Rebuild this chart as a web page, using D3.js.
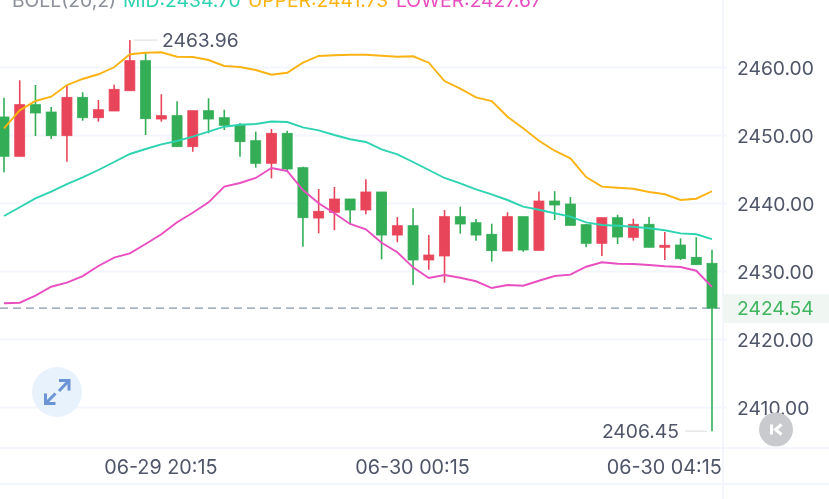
<!DOCTYPE html>
<html>
<head>
<meta charset="utf-8">
<script src="https://cdn.jsdelivr.net/npm/d3@7"></script>
<style>
html, body { margin: 0; padding: 0; background: #fff; overflow: hidden; }
svg { display: block; filter: blur(0.35px); }
text { font-family: Inter, Roboto, sans-serif; }
</style>
</head>
<body>
<script>
var w = 829;
var h = 499;

// 15 minute candles, 06-29 17:45 to 06-30 05:00
var times = ["06-29 17:45","06-29 18:00","06-29 18:15","06-29 18:30","06-29 18:45","06-29 19:00","06-29 19:15","06-29 19:30","06-29 19:45","06-29 20:00",
             "06-29 20:15","06-29 20:30","06-29 20:45","06-29 21:00","06-29 21:15","06-29 21:30","06-29 21:45","06-29 22:00","06-29 22:15","06-29 22:30",
             "06-29 22:45","06-29 23:00","06-29 23:15","06-29 23:30","06-29 23:45","06-30 00:00","06-30 00:15","06-30 00:30","06-30 00:45","06-30 01:00",
             "06-30 01:15","06-30 01:30","06-30 01:45","06-30 02:00","06-30 02:15","06-30 02:30","06-30 02:45","06-30 03:00","06-30 03:15","06-30 03:30",
             "06-30 03:45","06-30 04:00","06-30 04:15","06-30 04:30","06-30 04:45","06-30 05:00"];
var timeTicks = ["06-29 20:15","06-30 00:15","06-30 04:15"];
var priceTicks = [2410,2420,2430,2440,2450,2460];

var opens = [2452.65,2446.87,2454.46,2453.38,2449.90,2455.54,2452.54,2453.53,2456.51,2460.93,
             2452.35,2452.84,2448.28,2453.57,2452.54,2451.43,2449.16,2445.84,2450.25,2445.19,
             2437.79,2438.63,2440.59,2438.97,2441.62,2435.29,2436.66,2431.62,2432.21,2437.99,
             2437.10,2435.40,2432.94,2437.99,2433.04,2440.29,2439.85,2436.81,2434.07,2437.84,
             2434.96,2436.87,2433.49,2433.82,2432.01,2431.13];
var closes = [2446.87,2454.46,2453.24,2449.90,2455.54,2452.54,2453.72,2456.72,2460.93,2452.40,
              2452.84,2448.28,2453.57,2452.35,2451.43,2449.01,2445.84,2450.25,2445.00,2437.84,
              2438.78,2440.59,2438.97,2441.62,2435.29,2436.66,2431.62,2432.35,2437.99,2436.91,
              2435.29,2432.99,2437.99,2433.09,2440.29,2439.71,2436.72,2434.07,2437.84,2435.00,
              2436.87,2433.49,2433.78,2431.81,2430.93,2424.54];
var highs = [2455.49,2458.04,2457.35,2454.12,2457.35,2456.28,2455.15,2457.40,2463.96,2462.10,
             2455.99,2454.96,2453.57,2455.40,2453.72,2451.76,2450.49,2450.88,2450.63,2445.34,
             2442.06,2442.35,2440.59,2443.49,2441.62,2437.94,2439.22,2435.29,2438.97,2439.46,
             2437.65,2436.96,2438.63,2437.99,2441.69,2441.74,2440.88,2436.91,2437.84,2438.28,
             2437.69,2437.94,2435.74,2434.81,2434.96,2433.13];
var lows = [2444.51,2446.87,2449.85,2449.41,2446.07,2452.10,2451.96,2453.53,2456.51,2450.00,
            2451.96,2448.28,2447.54,2450.25,2450.74,2446.81,2445.19,2443.63,2444.60,2433.57,
            2435.54,2435.99,2437.01,2438.34,2431.72,2434.22,2427.94,2430.19,2428.28,2435.49,
            2434.46,2431.37,2432.94,2432.84,2433.04,2437.50,2436.72,2433.49,2432.21,2433.97,
            2434.46,2433.49,2431.62,2431.62,2430.93,2406.45];

var upper = [2450.99,2453.63,2455.00,2455.63,2457.35,2458.24,2458.93,2459.96,2461.87,2462.10,
             2462.16,2461.51,2461.47,2461.03,2460.15,2460.00,2459.56,2458.87,2459.16,2460.63,
             2461.62,2461.72,2461.81,2461.81,2461.66,2461.51,2461.57,2460.63,2457.94,2456.81,
             2455.54,2455.00,2452.69,2450.99,2449.16,2447.69,2446.57,2443.82,2442.40,2442.25,
             2442.10,2441.62,2441.28,2440.44,2440.63,2441.73];
var mid = [2438.09,2439.37,2440.69,2441.66,2442.79,2443.78,2444.85,2446.03,2447.21,2447.94,
           2448.63,2449.12,2449.75,2450.49,2451.22,2451.51,2451.62,2451.99,2451.91,2451.13,
           2450.69,2450.00,2449.37,2448.97,2447.90,2447.16,2446.03,2444.85,2443.68,2442.90,
           2442.01,2441.28,2440.44,2439.46,2439.01,2438.49,2437.99,2437.16,2436.76,2436.66,
           2436.51,2436.28,2435.99,2435.54,2435.40,2434.70];
var lower = [2425.25,2425.34,2426.37,2427.69,2428.28,2429.26,2430.74,2431.96,2432.60,2433.97,
             2435.40,2437.16,2438.57,2440.10,2442.40,2442.94,2443.68,2445.15,2444.71,2441.91,
             2439.96,2438.49,2436.91,2436.13,2434.16,2432.75,2430.54,2428.97,2429.41,2429.01,
             2428.49,2427.50,2427.94,2427.84,2428.57,2429.26,2429.46,2430.63,2431.28,2431.07,
             2431.03,2430.88,2430.69,2430.59,2430.04,2427.67];

var lastPrice = 2424.54;
var maxPrice = 2463.96;
var minPrice = 2406.45;

var red = "#e9455a";
var green = "#33ae57";
var gridColor = "#f3f6fc";
var labelColor = "#50566a";
var fontSize = 19.3;

var svg = d3.select("body").append("svg")
            .attr("width", w)
            .attr("height", h);

var xScale = d3.scalePoint().domain(times).range([4, 712]);
var yScale = d3.scaleLinear().domain([2410, 2460]).range([407, 67]);

// panel borders
svg.append("line").attr("x1",723).attr("x2",723).attr("y1",0).attr("y2",499)
   .attr("stroke",gridColor).attr("stroke-width",2);
svg.append("rect").attr("x",0).attr("y",447).attr("width",w).attr("height",2).attr("fill",gridColor);
svg.append("rect").attr("x",0).attr("y",483).attr("width",w).attr("height",2).attr("fill",gridColor);

// price tag background
svg.append("rect").attr("x",723).attr("y",294).attr("width",106).attr("height",29).attr("fill","#f0f7f2");

// grid
var grid = svg.append("g")
   .call(d3.axisLeft(yScale).tickValues(priceTicks).tickSize(-727).tickFormat(""));
grid.select(".domain").remove();
grid.selectAll("line").attr("stroke",gridColor).attr("stroke-width",2);

// axes
var yAxis = svg.append("g")
   .attr("transform","translate(737,0)")
   .call(d3.axisRight(yScale).tickValues(priceTicks).tickSize(0).tickPadding(0).tickFormat(d3.format(".2f")));
yAxis.select(".domain").remove();
yAxis.selectAll("text")
     .attr("font-family","Inter, Roboto, sans-serif")
     .attr("font-size",fontSize)
     .attr("dy","0.4em")
     .attr("fill",labelColor);

var xAxis = svg.append("g")
   .attr("transform","translate(-1,460)")
   .call(d3.axisBottom(xScale).tickValues(timeTicks).tickSize(0).tickPadding(0));
xAxis.select(".domain").remove();
xAxis.selectAll("text")
     .attr("font-family","Inter, Roboto, sans-serif")
     .attr("font-size",19.8)
     .attr("fill",labelColor);

// last price line
svg.append("line")
   .attr("x1",0).attr("x2",720)
   .attr("y1",yScale(lastPrice)).attr("y2",yScale(lastPrice))
   .attr("stroke","#8496ab").attr("stroke-width",1.4).attr("stroke-dasharray","8,5");
svg.append("text")
   .attr("x",737).attr("y",yScale(lastPrice)).attr("dy","0.38em")
   .attr("font-size",fontSize).attr("fill","#3fb560")
   .text(d3.format(".2f")(lastPrice));

// candles
var candles = svg.append("g").selectAll("g")
   .data(times)
   .enter()
   .append("g")
   .attr("fill",function(d,i){ return closes[i] >= opens[i] ? red : green; })
   .attr("stroke",function(d,i){ return closes[i] >= opens[i] ? red : green; });
candles.append("line")
   .attr("x1",function(d){ return xScale(d); })
   .attr("x2",function(d){ return xScale(d); })
   .attr("y1",function(d,i){ return yScale(highs[i]); })
   .attr("y2",function(d,i){ return yScale(lows[i]); })
   .attr("stroke-width",1.6);
candles.append("rect")
   .attr("x",function(d){ return xScale(d) - 5; })
   .attr("width",10)
   .attr("y",function(d,i){ return yScale(Math.max(opens[i],closes[i])); })
   .attr("height",function(d,i){ return Math.abs(yScale(opens[i]) - yScale(closes[i])); })
   .attr("stroke-width",0.8);

// bollinger lines
var line = d3.line()
   .x(function(d,i){ return xScale(times[i]); })
   .y(function(d){ return yScale(d); });
[[upper,"#fbb313"],[mid,"#2ed3b1"],[lower,"#e94fc0"]].forEach(function(s){
  svg.append("path")
     .datum(s[0])
     .attr("d",line)
     .attr("fill","none")
     .attr("stroke",s[1])
     .attr("stroke-width",1.9);
});

// high and low markers
svg.append("line")
   .attr("x1",134).attr("x2",157)
   .attr("y1",yScale(maxPrice)).attr("y2",yScale(maxPrice))
   .attr("stroke","#d8dade").attr("stroke-width",1);
svg.append("text")
   .attr("x",162).attr("y",yScale(maxPrice)).attr("dy","0.38em")
   .attr("font-size",fontSize).attr("fill",labelColor)
   .text(d3.format(".2f")(maxPrice));
svg.append("line")
   .attr("x1",685).attr("x2",707)
   .attr("y1",yScale(minPrice)).attr("y2",yScale(minPrice))
   .attr("stroke","#d8dade").attr("stroke-width",1);
svg.append("text")
   .attr("x",679).attr("y",yScale(minPrice)).attr("dy","0.38em")
   .attr("text-anchor","end")
   .attr("font-size",fontSize).attr("fill",labelColor)
   .text(d3.format(".2f")(minPrice));

// legend, cut off by the top edge as in the screenshot
var legend = svg.append("text").attr("y",7).attr("font-size",fontSize);
legend.append("tspan").attr("x",12).attr("fill","#8c909a").text("BOLL(20,2)");
legend.append("tspan").attr("x",123).attr("fill","#2ed3b1").text("MID:2434.70");
legend.append("tspan").attr("x",248).attr("fill","#fbb313").text("UPPER:2441.73");
legend.append("tspan").attr("x",396).attr("fill","#e94fc0").text("LOWER:2427.67");

// expand button
svg.append("circle").attr("cx",57).attr("cy",392).attr("r",25).attr("fill","#e8f2fd");
svg.append("path")
   .attr("d","M59,380.5H69V390.5M69,380.5L59,391M45.5,393.5V403.5H55.5M45.5,403.5L55.5,393.5")
   .attr("fill","none").attr("stroke","#6a94d4").attr("stroke-width",3);

// back to latest button
svg.append("circle").attr("cx",776).attr("cy",429.5).attr("r",17).attr("fill","#c9cacd");
svg.append("path")
   .attr("d","M771.5,424.5V434.5M781.5,424.5L775.5,429.5L781.5,434.5")
   .attr("fill","none").attr("stroke","#fff").attr("stroke-width",3);
</script>
</body>
</html>
